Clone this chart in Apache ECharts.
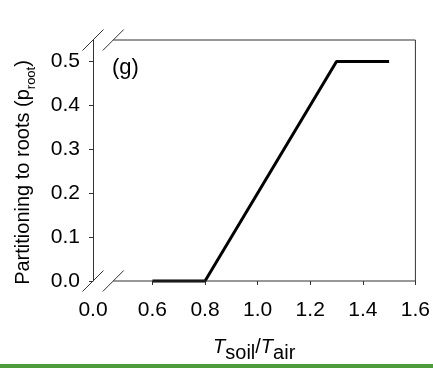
<!DOCTYPE html>
<html><head><meta charset="utf-8">
<script src="https://cdn.jsdelivr.net/npm/echarts@6/dist/echarts.min.js"></script>
<style>html,body{margin:0;padding:0;background:#fff}#c{width:433px;height:368px}</style>
</head><body><div id="c"></div>
<script>
// data
var xValues = [0.6, 0.8, 1.3, 1.5];
var yValues = [0.0, 0.0, 0.5, 0.5];
var xTickValues = [0.6, 0.8, 1.0, 1.2, 1.4, 1.6];
var yTickValues = [0.0, 0.1, 0.2, 0.3, 0.4, 0.5];
var xBreakLabel = '0.0';
var panelLabel = '(g)';
// axis scale bounds
var xMin = 0.374, xBreakEnd = 0.451, xMax = 1.6;
var yMin = 0, yMax = 0.549;

var FONT = '"Liberation Sans", Arial, sans-serif';
var AX = '#333';
var chart = echarts.init(document.getElementById('c'), null, {renderer: 'canvas'});
var points = xValues.map(function (x, i) { return [x, yValues[i]]; });

chart.setOption({
  animation: false,
  backgroundColor: '#fff',
  title: {
    text: panelLabel, left: 112, top: 57, padding: 0,
    textStyle: {fontFamily: FONT, fontSize: 22, fontWeight: 'normal', color: '#000'}
  },
  grid: {left: 93, right: 12.3, top: 40, bottom: 83, containLabel: false},
  xAxis: {
    type: 'value', min: xMin, max: xMax,
    axisLine: {show: false},
    axisTick: {show: true, inside: false, length: 4, customValues: xTickValues, lineStyle: {color: AX, width: 1}},
    axisLabel: {
      customValues: [xMin].concat(xTickValues), margin: 19,
      fontFamily: FONT, fontSize: 21, color: '#000',
      formatter: function (v) { return v < xBreakEnd ? xBreakLabel : v.toFixed(1); }
    },
    splitLine: {show: false},
    name: '{it|T}{sub|soil}{n|/}{it|T}{sub|air}',
    nameLocation: 'middle', nameGap: 52,
    nameTextStyle: {
      fontFamily: FONT, color: '#000',
      rich: {
        it: {fontFamily: FONT, fontSize: 20, fontStyle: 'italic', color: '#000', verticalAlign: 'bottom', lineHeight: 24},
        n: {fontFamily: FONT, fontSize: 20, color: '#000', verticalAlign: 'bottom', lineHeight: 24},
        sub: {fontFamily: FONT, fontSize: 20, color: '#000', verticalAlign: 'bottom', lineHeight: 24, padding: [0, 0, -6, 0]}
      }
    }
  },
  yAxis: {
    type: 'value', min: yMin, max: yMax,
    axisLine: {show: true, lineStyle: {color: AX, width: 1}},
    axisTick: {show: true, inside: false, length: 4, customValues: yTickValues, lineStyle: {color: AX, width: 1}},
    axisLabel: {
      customValues: yTickValues,
      margin: 13, fontFamily: FONT, fontSize: 21, color: '#000',
      formatter: function (v) { return v.toFixed(1); }
    },
    splitLine: {show: false},
    name: '{n|Partitioning to roots (p}{sub|root}{n|)}',
    nameLocation: 'middle', nameGap: 60, nameRotate: 90,
    nameTextStyle: {
      fontFamily: FONT, color: '#000', padding: [0, 24, 0, 0],
      rich: {
        n: {fontFamily: FONT, fontSize: 20, color: '#000', verticalAlign: 'bottom', lineHeight: 24},
        sub: {fontFamily: FONT, fontSize: 13, color: '#000', verticalAlign: 'bottom', lineHeight: 24, padding: [0, 0, -5, 0]}
      }
    }
  },
  series: [{
    type: 'line', data: points, showSymbol: false, symbol: 'none',
    lineStyle: {color: '#000', width: 3}, clip: false, z: 5
  }]
});

function px(x, y) { return chart.convertToPixel({gridIndex: 0}, [x, y]); }
var g = [];
function seg(a, b, w) {
  g.push({type: 'line', shape: {x1: a[0], y1: a[1], x2: b[0], y2: b[1]}, style: {stroke: AX, lineWidth: w || 1}, z: 10});
}
var b0 = px(xBreakEnd, yMin), b1 = px(xMax, yMin), t0 = px(xBreakEnd, yMax), t1 = px(xMax, yMax);
seg(b0, b1); seg(t0, t1); seg(b1, t1);
[[xMin, yMin], [xBreakEnd, yMin], [xMin, yMax], [xBreakEnd, yMax]].forEach(function (p) {
  var c = px(p[0], p[1]);
  seg([c[0] - 10.5, c[1] + 10.5], [c[0] + 10.5, c[1] - 10.5]);
});
g.push({type: 'rect', shape: {x: 0, y: 364, width: 433, height: 4}, style: {fill: '#4e9b3b'}, z: 10});
chart.setOption({graphic: g});
</script></body></html>
